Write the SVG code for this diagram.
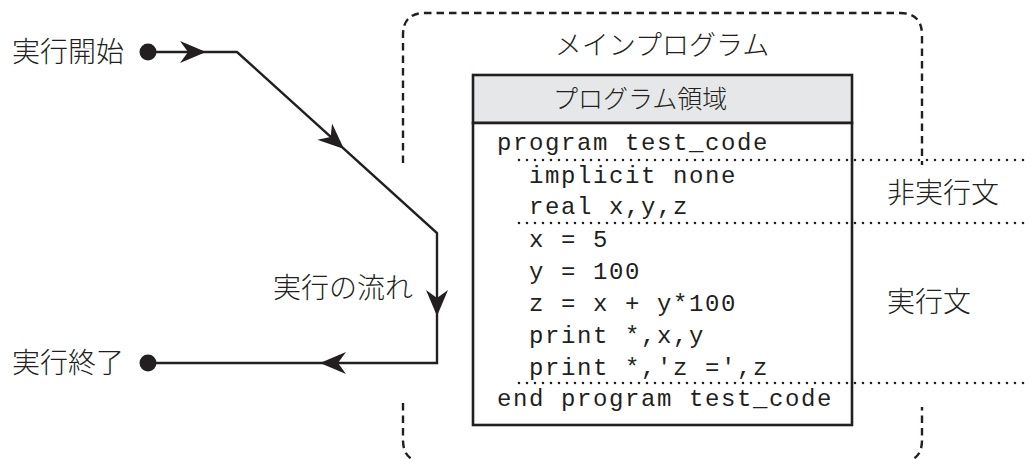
<svg xmlns="http://www.w3.org/2000/svg" width="1031" height="459" viewBox="0 0 1031 459">
<style>
.jp{font-family:"Noto Sans CJK JP","Liberation Sans",sans-serif;font-weight:300;fill:#231f20}
.code{font-family:"Liberation Mono","Courier New",monospace;font-size:24px;letter-spacing:1.6px;fill:#231f20}
.flow{fill:none;stroke:#231f20;stroke-width:2.4;stroke-linejoin:miter}
.dash{fill:none;stroke:#231f20;stroke-width:2.4;stroke-dasharray:7.5 5}
.dot{fill:none;stroke:#231f20;stroke-width:2.6;stroke-linecap:round;stroke-dasharray:0 8}
</style>
<defs>
<path id="ah" d="M0,0 L-26,-11 L-18,0 L-26,11 Z" fill="#231f20"/>
</defs>
<rect width="1031" height="459" fill="#ffffff"/>
<g id="main-program">
<path class="dash" d="M403,163 V35 Q403,13 425,13 H900 Q922,13 922,35 V165"/>
<path class="dash" d="M403,403 V440 Q403,462 425,462 H900 Q922,462 922,440 V407"/>
<text class="jp" x="662" y="55" font-size="27" text-anchor="middle">メインプログラム</text>
</g>
<g id="program-area">
<rect x="473" y="75" width="379" height="48" fill="#e6e7e8" stroke="#231f20" stroke-width="2.6"/>
<rect x="473" y="123" width="379" height="302" fill="#ffffff" stroke="#231f20" stroke-width="2.6"/>
<text class="jp" x="553" y="108" font-size="25">プログラム領域</text>
<text class="code" x="497" y="150">program test_code</text>
<text class="code" x="529" y="183">implicit none</text>
<text class="code" x="529" y="214">real x,y,z</text>
<text class="code" x="529" y="247">x = 5</text>
<text class="code" x="529" y="279">y = 100</text>
<text class="code" x="529" y="311">z = x + y*100</text>
<text class="code" x="529" y="343">print *,x,y</text>
<text class="code" x="529" y="375">print *,'z =',z</text>
<text class="code" x="497" y="406">end program test_code</text>
</g>
<g id="sections">
<line class="dot" x1="519" y1="160" x2="1031" y2="160"/>
<line class="dot" x1="519" y1="223" x2="1031" y2="223"/>
<line class="dot" x1="519" y1="383" x2="1031" y2="383"/>
<text class="jp" x="887" y="203" font-size="28">非実行文</text>
<text class="jp" x="887" y="312" font-size="28">実行文</text>
</g>
<g id="start">
<circle cx="148" cy="52" r="8.5" fill="#231f20"/>
<text class="jp" x="12" y="62" font-size="28">実行開始</text>
</g>
<g id="end">
<circle cx="148" cy="363" r="8.5" fill="#231f20"/>
<text class="jp" x="12" y="373" font-size="28">実行終了</text>
</g>
<g id="flow-label">
<text class="jp" x="413" y="298" font-size="28" text-anchor="end">実行の流れ</text>
</g>
<g id="connectors">
<path class="flow" d="M148,52 H237 L437,233 V363 H148"/>
<use href="#ah" transform="translate(206,52)"/>
<use href="#ah" transform="translate(344,149) rotate(42.1)"/>
<use href="#ah" transform="translate(437,316) rotate(90)"/>
<use href="#ah" transform="translate(320,363) rotate(180)"/>
</g>
</svg>
